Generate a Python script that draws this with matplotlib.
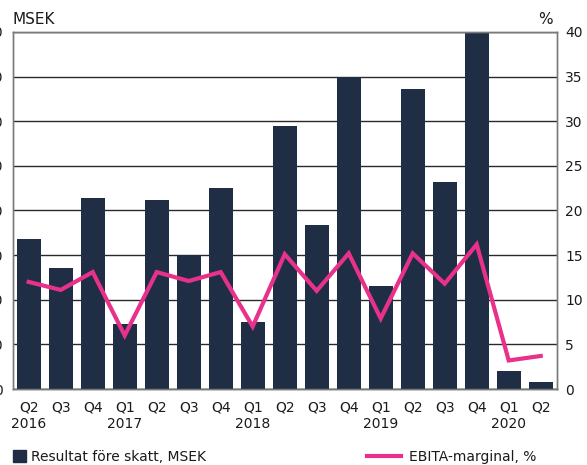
import matplotlib
matplotlib.use("Agg")
import matplotlib.pyplot as plt
from matplotlib.patches import Patch
from matplotlib.lines import Line2D
import numpy as np

plt.rcParams['font.family'] = ['DejaVu Sans']

quarters = ["Q2", "Q3", "Q4", "Q1", "Q2", "Q3", "Q4", "Q1", "Q2", "Q3", "Q4",
            "Q1", "Q2", "Q3", "Q4", "Q1", "Q2"]
years = ["2016", "", "", "2017", "", "", "", "2018", "", "", "",
         "2019", "", "", "", "2020", ""]
profit_msek = [33.6, 27.2, 42.8, 14.6, 42.4, 30.0, 45.0, 15.0, 59.0, 36.8, 70.0,
               23.0, 67.2, 46.4, 80.0, 4.0, 1.6]
ebita_margin = [12.0, 11.1, 13.1, 6.0, 13.1, 12.1, 13.1, 7.0, 15.1, 11.0, 15.2,
                7.9, 15.2, 11.8, 16.2, 3.2, 3.7]
left_ticks = [0, 10, 20, 30, 40, 50, 60, 70, 80]
right_ticks = [0, 5, 10, 15, 20, 25, 30, 35, 40]

bar_color = "#1f2e45"
line_color = "#e8318b"
grid_color = "#2a2a2a"
spine_color = "#7a7a7a"
text_color = "#1a1a1a"
fs = 10

W, H = 587, 465
fig = plt.figure(figsize=(W / 100, H / 100), dpi=100)
ax = fig.add_axes([12.7 / W, (H - 389) / H, (556.7 - 12.7) / W, (389 - 32) / H])

x = np.arange(len(quarters))
ax.bar(x, profit_msek, width=0.75, color=bar_color, zorder=2)
ax.set_xlim(-0.5, len(quarters) - 0.5)
ax.set_ylim(0, 80)
ax.set_yticks(left_ticks)
ax.yaxis.grid(True, color=grid_color, linewidth=1.0, zorder=0)
ax.set_axisbelow(True)
ax.tick_params(axis='y', length=0, pad=7, labelsize=fs, labelcolor=text_color)
ax.set_xticks(x)
ax.set_xticklabels([q + "\n" + y if y else q + "\n " for q, y in zip(quarters, years)],
                   fontsize=fs, color=text_color, linespacing=1.3)
ax.tick_params(axis='x', length=0, pad=8)

ax2 = ax.twinx()
ax2.plot(x, ebita_margin, color=line_color, linewidth=3.0, zorder=3,
         solid_joinstyle='miter')
ax2.set_ylim(0, 40)
ax2.set_yticks(right_ticks)
ax2.tick_params(axis='y', length=0, pad=6, labelsize=fs, labelcolor=text_color)

for a in (ax, ax2):
    for s in a.spines.values():
        s.set_color(spine_color)
        s.set_linewidth(1.0)
ax.spines['bottom'].set_color(grid_color)

fig.text(13 / W, 1 - 19 / H, "MSEK", fontsize=11, color=text_color,
         ha='left', va='center')
fig.text(553 / W, 1 - 19 / H, "%", fontsize=11, color=text_color,
         ha='right', va='center')

leg1 = fig.legend(handles=[Patch(color=bar_color, label="Resultat före skatt, MSEK")],
                  loc='center left', bbox_to_anchor=(13 / W, 1 - 457 / H),
                  frameon=False, borderpad=0, borderaxespad=0, handlelength=0.95,
                  handleheight=1.0, handletextpad=0.36, fontsize=fs,
                  labelcolor=text_color)
leg2 = fig.legend(handles=[Line2D([0], [0], color=line_color, linewidth=3.0,
                                  label="EBITA-marginal, %")],
                  loc='center left', bbox_to_anchor=(367 / W, 1 - 457 / H),
                  frameon=False, borderpad=0, borderaxespad=0, handlelength=2.45,
                  handletextpad=0.58, fontsize=fs, labelcolor=text_color)

fig.savefig("out.png", dpi=100)
